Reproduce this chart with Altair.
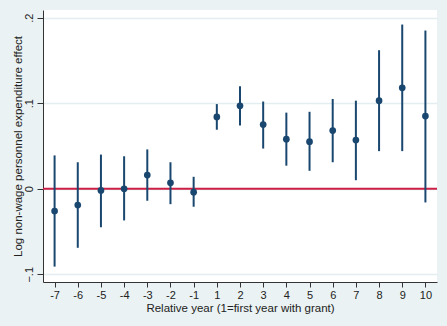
import altair as alt
import pandas as pd

years = ["-7", "-6", "-5", "-4", "-3", "-2", "-1", "1", "2", "3", "4", "5", "6", "7", "8", "9", "10"]
estimate = [-0.026, -0.019, -0.002, 0.000, 0.016, 0.007, -0.004, 0.084, 0.097, 0.075, 0.058, 0.055, 0.068, 0.057, 0.103, 0.118, 0.085]
ci_low = [-0.091, -0.069, -0.045, -0.037, -0.014, -0.018, -0.021, 0.069, 0.074, 0.047, 0.027, 0.021, 0.031, 0.010, 0.044, 0.044, -0.016]
ci_high = [0.039, 0.031, 0.040, 0.038, 0.046, 0.031, 0.014, 0.099, 0.120, 0.102, 0.089, 0.090, 0.105, 0.103, 0.162, 0.192, 0.185]
y_ticks = [-0.1, 0.0, 0.1, 0.2]

df = pd.DataFrame({"year": years, "est": estimate, "lo": ci_low, "hi": ci_high})

navy = "#1a476f"
font = "Liberation Sans"

x_enc = alt.X(
    "year:O", sort=years,
    scale=alt.Scale(type="point", padding=0.5),
    axis=alt.Axis(
        title="Relative year (1=first year with grant)",
        labelAngle=0, labelFontSize=11, titleFontSize=11.5, titleFontWeight="normal",
        labelFont=font, titleFont=font, labelColor="#222", titleColor="#222",
        tickSize=5, tickColor="#333", domainColor="#333", labelPadding=2, titlePadding=2,
        grid=False,
    ),
)
y_scale = alt.Scale(domain=[-0.109, 0.209], nice=False, zero=False)
y_axis = alt.Axis(
    title="Log non-wage personnel expenditure effect",
    values=y_ticks,
    labelExpr="datum.value == 0 ? '0' : replace(format(datum.value, '.1f'), '0.', '.')",
    labelAngle=270, labelFontSize=11, titleFontSize=11.5, titleFontWeight="normal",
    labelFont=font, titleFont=font, labelColor="#222", titleColor="#222",
    tickSize=6, tickColor="#333", domainColor="#333",
    grid=True, gridColor="#e4eef0", gridWidth=1.5,
    labelPadding=3, titlePadding=0,
)

base = alt.Chart(df)

ci = base.mark_rule(color=navy, strokeWidth=2).encode(
    x=x_enc,
    y=alt.Y("lo:Q", scale=y_scale, axis=y_axis),
    y2="hi:Q",
)
pts = base.mark_circle(color=navy, size=45, opacity=1).encode(
    x=x_enc,
    y=alt.Y("est:Q", scale=y_scale),
)
zero = alt.Chart(pd.DataFrame({"z": [0.0]})).mark_rule(color="#cc1f45", strokeWidth=2).encode(
    y=alt.Y("z:Q", scale=y_scale)
)

chart = alt.layer(zero, ci, pts).properties(
    width=394, height=272,
    autosize=alt.AutoSizeParams(type="none"),
    padding={"left": 43, "top": 10, "right": 10, "bottom": 44},
    background="#eaf2f3",
).configure_view(fill="white", stroke=None)

chart.save("out.html", embed_options={"renderer": "svg", "actions": False})
